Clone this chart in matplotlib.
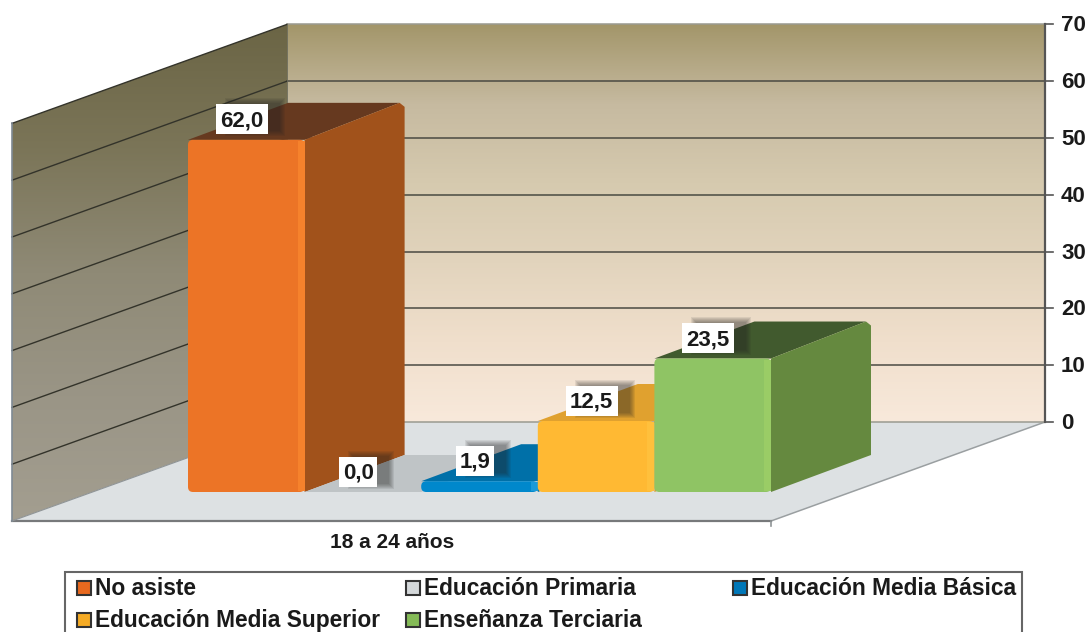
import numpy as np
import matplotlib
matplotlib.use("Agg")
import matplotlib.pyplot as plt
from matplotlib.colors import LinearSegmentedColormap
from matplotlib.patches import FancyBboxPatch, Polygon, Rectangle

categories = ["No asiste", "Educación Primaria", "Educación Media Básica",
              "Educación Media Superior", "Enseñanza Terciaria"]
values = [62.0, 0.0, 1.9, 12.5, 23.5]
value_labels = ["62,0", "0,0", "1,9", "12,5", "23,5"]
group_label = "18 a 24 años"
y_ticks = [0, 10, 20, 30, 40, 50, 60, 70]

front_colors = ["#ec7426", "#c3c8ca", "#0088cc", "#ffb933", "#8fc464"]
edge_colors = ["#f6822c", "#d0d4d6", "#1a9ad8", "#ffc03c", "#9acc66"]
side_colors = ["#a1521b", "#aeb3b5", "#0070a8", "#d9992a", "#65893f"]
top_colors = ["#66391f", "#bfc4c6", "#0070a8", "#e0a12f", "#415a2e"]
legend_colors = ["#e8691f", "#d4d8da", "#0077b8", "#f5ab25", "#85bb57"]

PX = 5.68  # pixels per percent unit
BASE = 492
BAR_W = 116.6
BAR_X0 = 188
DEPTH_X, DEPTH_Y = 100, 37 / PX
WALL_L, WALL_M, WALL_R, WALL_FRONT_R = 12, 287, 1045, 771
FRONT_Y = -29 / PX
BACK_Y = 70 / PX
TOP = 70
TEXT_NUDGE = 1.5 / PX  # text sits a little low in the reference


def yv(pixel):
    return (BASE - pixel) / PX


plt.rcParams["font.family"] = ["Liberation Sans", "DejaVu Sans"]
plt.rcParams["font.weight"] = "bold"

fig = plt.figure(figsize=(10.9, 6.32), dpi=100)
ax = fig.add_axes([0, 0, 1, 1])
ax.axis("off")

# walls and floor
back_cmap = LinearSegmentedColormap.from_list(
    "back", ["#a3966a", "#c6baa0", "#d6caaf", "#e2d4bd", "#f0dfcc", "#f8e9db"])
left_cmap = LinearSegmentedColormap.from_list(
    "left", ["#6b6545", "#7b7558", "#8f8a76", "#9a9586", "#a39e90"])
grad = np.linspace(0, 1, 256).reshape(-1, 1)

back_poly = Polygon([(WALL_M, BACK_Y), (WALL_R, BACK_Y), (WALL_R, BACK_Y + TOP), (WALL_M, BACK_Y + TOP)],
                    fc="none", ec="none")
ax.add_patch(back_poly)
im = ax.imshow(grad, cmap=back_cmap, aspect="auto", zorder=1,
               extent=(WALL_M, WALL_R, BACK_Y, BACK_Y + TOP), origin="upper")
im.set_clip_path(back_poly)

left_poly = Polygon([(WALL_L, FRONT_Y), (WALL_M, BACK_Y), (WALL_M, BACK_Y + TOP), (WALL_L, FRONT_Y + TOP)],
                    fc="none", ec="none")
ax.add_patch(left_poly)
im = ax.imshow(grad, cmap=left_cmap, aspect="auto", zorder=1,
               extent=(WALL_L, WALL_M, FRONT_Y, BACK_Y + TOP), origin="upper")
im.set_clip_path(left_poly)
ax.set_xlim(0, 1090)
ax.set_ylim(yv(632), yv(0))

ax.add_patch(Polygon([(WALL_L, FRONT_Y), (WALL_M, BACK_Y), (WALL_R, BACK_Y), (WALL_FRONT_R, FRONT_Y)],
                     fc="#dde1e3", ec="none", zorder=2))
ax.plot([WALL_FRONT_R, WALL_R], [FRONT_Y, BACK_Y], color="#9a9fa1", lw=1.1, zorder=3)
ax.plot([WALL_L, WALL_FRONT_R], [FRONT_Y, FRONT_Y], color="#77797b", lw=1.6, zorder=3)
ax.plot([WALL_L, WALL_M], [FRONT_Y, BACK_Y], color="#8f9496", lw=0.8, zorder=3)

# gridlines on both walls
for t in y_ticks:
    back_color = "#9a9a90" if t in (0, 70) else "#4a4a42"
    ax.plot([WALL_M, WALL_R], [BACK_Y + t, BACK_Y + t], color=back_color, lw=1.1, zorder=3)
    if t > 0:
        ax.plot([WALL_L, WALL_M], [FRONT_Y + t, BACK_Y + t], color="#33332a", lw=1.0, zorder=3)
    ax.plot([WALL_R, WALL_R + 8], [BACK_Y + t, BACK_Y + t], color="#555555", lw=1.2, zorder=3)
    ax.text(WALL_R + 16, BACK_Y + t - TEXT_NUDGE, str(t), ha="left", va="center", fontsize=16,
            color="#1a1a1a", zorder=3)
ax.plot([WALL_R, WALL_R], [BACK_Y, BACK_Y + TOP], color="#555555", lw=1.6, zorder=3)
ax.plot([WALL_L, WALL_L], [FRONT_Y, FRONT_Y + TOP], color="#7f8a94", lw=1.2, zorder=3)
ax.plot([WALL_M, WALL_M], [BACK_Y, BACK_Y + TOP], color="#6a6a5a", lw=0.6, zorder=3)
ax.plot([WALL_FRONT_R, WALL_FRONT_R], [FRONT_Y, FRONT_Y - 5 / PX], color="#8f9496", lw=1.2, zorder=3)

# bars, drawn left to right so each one covers the side of the previous
for i, val in enumerate(values):
    x0 = BAR_X0 + i * BAR_W
    x1 = x0 + BAR_W
    bx = x1 + DEPTH_X
    by = val + DEPTH_Y
    z = 4 + i
    ax.add_patch(Polygon([(x0, val), (x1, val), (bx - 5, by), (x0 + DEPTH_X, by)],
                         fc=top_colors[i], ec="none", zorder=z))
    if val > 0:
        ax.add_patch(Polygon([(x1, 0), (bx, DEPTH_Y), (bx, by - 4 / PX), (bx - 5, by), (x1, val)],
                             fc=side_colors[i], ec="none", zorder=z))
        ax.add_patch(FancyBboxPatch((x0, 0), BAR_W, val, boxstyle="round,pad=0,rounding_size=5",
                                    mutation_aspect=1 / PX, fc=front_colors[i], ec="none", zorder=z))
        # lit bevel down the right edge of the front face
        ax.add_patch(Rectangle((x1 - 7, 0.2), 7, val - 0.4, fc=edge_colors[i], ec="none", zorder=z))

# value labels with a soft shadow up and to the right
for i, val in enumerate(values):
    cx = BAR_X0 + (i + 0.5) * BAR_W - 4.5
    cy = val + 3.6
    half = 26 if len(value_labels[i]) == 4 else 19
    z = 12 + i
    for grow in [4, 3, 2, 1, 0, -1]:
        ax.add_patch(Rectangle((cx - half + 13 - grow, cy - (15 + grow - 2) / PX), 2 * half + 2 * grow,
                               (30 + 2 * grow) / PX, fc="#222222", ec="none", alpha=0.09, zorder=z))
    ax.add_patch(Rectangle((cx - half, cy - 15 / PX), 2 * half, 30 / PX, fc="white", ec="none", zorder=z))
    ax.text(cx, cy - TEXT_NUDGE, value_labels[i], ha="center", va="center", fontsize=16,
            color="#1a1a1a", zorder=z)

ax.text(392, yv(541) - TEXT_NUDGE, group_label, ha="center", va="center", fontsize=15,
        color="#1a1a1a", zorder=3)

# legend box runs off the bottom of the picture
ax.add_patch(Rectangle((65, yv(640)), 957, yv(572) - yv(640), fc="white", ec="#666666", lw=1.5, zorder=3))
legend_x = [77, 406, 733, 77, 406]
legend_y = [588, 588, 588, 620, 620]
for name, color, lx, ly in zip(categories, legend_colors, legend_x, legend_y):
    ax.add_patch(Rectangle((lx, yv(ly + 7)), 14, 14 / PX, fc=color, ec="#333333", lw=1.5, zorder=4))
    ax.text(lx + 18, yv(ly) - TEXT_NUDGE / 2, name, ha="left", va="center", fontsize=16.4,
            color="#1a1a1a", zorder=4)

fig.savefig("out.png", dpi=100)
